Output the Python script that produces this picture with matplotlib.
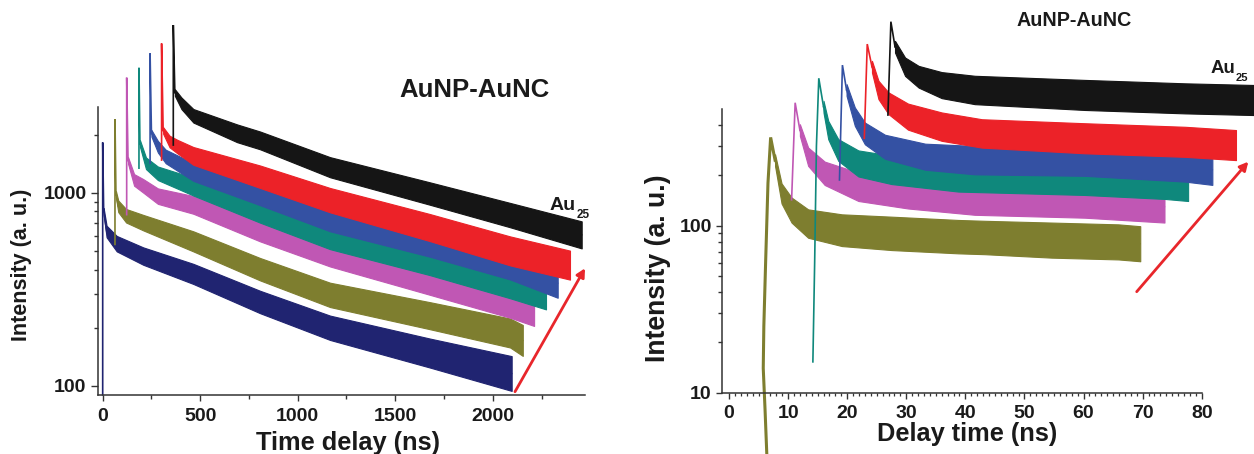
import matplotlib
matplotlib.use('Agg')
import matplotlib.pyplot as plt
import numpy as np
from matplotlib.ticker import NullFormatter, FixedLocator

plt.rcParams['font.family'] = ['Liberation Sans', 'DejaVu Sans']
plt.rcParams['font.weight'] = 'bold'

# ---------------- colours ----------------
C_BLACK = '#151515'
C_RED = '#ec2228'
C_BLUE = '#3451a3'
C_TEAL = '#0f887c'
C_MAGENTA = '#c057b4'
C_OLIVE = '#7e7e2f'
C_NAVY = '#202471'
C_ARROW = '#e8262b'

# ---------------- LEFT PANEL DATA (Time delay, ns / Intensity) ----------------
L_navy_rise_t = [0, 0]
L_navy_rise_I = [90, 1820]
L_navy_t = [5, 20, 72, 208, 465, 807, 1166, 1678, 2097]
L_navy_I = [800, 630, 545, 470, 380, 272, 200, 148, 116]
L_navy_sp = [0.017, 0.03, 0.04, 0.045, 0.052, 0.058, 0.063, 0.075, 0.09]

L_olive_rise_t = [63, 63]
L_olive_rise_I = [540, 2400]
L_olive_t = [68, 80, 120, 208, 465, 807, 1166, 1678, 2089, 2154]
L_olive_I = [980, 850, 760, 700, 560, 402, 296, 231, 188, 172]
L_olive_sp = [0.017, 0.03, 0.035, 0.04, 0.052, 0.058, 0.063, 0.07, 0.075, 0.08]

L_magenta_rise_t = [123, 123]
L_magenta_rise_I = [770, 3940]
L_magenta_t = [130, 161, 208, 283, 465, 807, 1166, 1678, 2089, 2212]
L_magenta_I = [1470, 1165, 1085, 960, 865, 640, 480, 348, 268, 243]
L_magenta_sp = [0.017, 0.03, 0.035, 0.04, 0.046, 0.058, 0.063, 0.07, 0.075, 0.075]

L_teal_rise_t = [186, 186]
L_teal_rise_I = [1340, 4430]
L_teal_t = [191, 222, 283, 465, 807, 1166, 1678, 2089, 2273]
L_teal_I = [1800, 1420, 1260, 1075, 800, 590, 440, 338, 296]
L_teal_sp = [0.017, 0.03, 0.035, 0.046, 0.058, 0.063, 0.07, 0.075, 0.075]

L_blue_rise_t = [243, 243]
L_blue_rise_I = [1420, 5260]
L_blue_t = [250, 283, 323, 465, 807, 1166, 1678, 2089, 2333]
L_blue_I = [2030, 1730, 1540, 1280, 985, 730, 548, 418, 340]
L_blue_sp = [0.017, 0.03, 0.035, 0.046, 0.058, 0.063, 0.07, 0.07, 0.075]

L_red_rise_t = [302, 302]
L_red_rise_I = [1475, 5920]
L_red_t = [310, 343, 384, 465, 807, 1166, 1678, 2089, 2396]
L_red_I = [2100, 1840, 1730, 1550, 1210, 915, 660, 500, 422]
L_red_sp = [0.017, 0.03, 0.035, 0.046, 0.058, 0.063, 0.07, 0.075, 0.075]

L_black_rise_t = [362, 362]
L_black_rise_I = [1765, 7370]
L_black_t = [370, 404, 465, 689, 807, 1166, 1678, 2089, 2456]
L_black_I = [3300, 2900, 2500, 2030, 1865, 1355, 990, 766, 605]
L_black_sp = [0.017, 0.03, 0.035, 0.046, 0.046, 0.052, 0.058, 0.063, 0.07]

L_xticks = [0, 500, 1000, 1500, 2000]
L_xminor = [250, 750, 1250, 1750, 2250]
L_yticks = [100, 1000]
L_yminor = [200, 300, 400, 500, 600, 700, 800, 900, 2000]

# ---------------- RIGHT PANEL DATA (Delay time, ns / Intensity) ----------------
R_olive_rise_t = [6.4, 6.1, 5.8, 5.9, 6.2, 6.6, 7.05]
R_olive_rise_I = [4.3, 8, 14, 25, 60, 180, 338]
R_olive_t = [7.8, 8.9, 10.6, 13.4, 19.1, 27.5, 38.8, 43.3, 54.6, 65.9, 69.6]
R_olive_I = [247, 156, 124, 103, 94, 90, 86, 85, 82, 80, 78]
R_olive_sp = [0.035, 0.06, 0.075, 0.085, 0.095, 0.1, 0.1, 0.1, 0.105, 0.105, 0.105]

R_magenta_rise_t = [10.6, 11.2]
R_magenta_rise_I = [143, 545]
R_magenta_t = [12.0, 13.4, 16.2, 21.9, 30.3, 41.6, 60.2, 73.7]
R_magenta_I = [374, 259, 206, 171, 156, 143, 139, 130]
R_magenta_sp = [0.035, 0.055, 0.07, 0.085, 0.09, 0.09, 0.095, 0.095]

R_teal_rise_t = [14.2, 14.5, 14.8, 15.2]
R_teal_rise_I = [15.3, 60, 300, 764]
R_teal_t = [16.0, 16.8, 18.5, 21.9, 27.5, 38.8, 60.2, 73.8, 77.7]
R_teal_I = [516, 374, 284, 236, 216, 197, 188, 180, 175]
R_teal_sp = [0.035, 0.055, 0.065, 0.078, 0.085, 0.09, 0.09, 0.095, 0.095]

R_blue_rise_t = [18.7, 19.2]
R_blue_rise_I = [188, 916]
R_blue_t = [19.9, 21.3, 23.0, 26.4, 33.2, 41.6, 60.2, 77.2, 81.8]
R_blue_I = [650, 450, 357, 297, 259, 247, 242, 226, 216]
R_blue_sp = [0.035, 0.055, 0.065, 0.072, 0.078, 0.085, 0.085, 0.09, 0.09]

R_red_rise_t = [22.9, 23.4]
R_red_rise_I = [334, 1224]
R_red_t = [24.2, 25.3, 27.0, 30.3, 36.0, 42.8, 60.2, 77.2, 85.8]
R_red_I = [896, 650, 541, 450, 392, 357, 334, 318, 304]
R_red_sp = [0.035, 0.055, 0.065, 0.078, 0.085, 0.085, 0.09, 0.09, 0.09]

R_black_rise_t = [26.9, 27.4]
R_black_rise_I = [460, 1667]
R_black_t = [28.1, 29.8, 32.1, 36.0, 41.6, 60.2, 77.2, 88.8]
R_black_I = [1180, 896, 780, 695, 650, 607, 579, 566]
R_black_sp = [0.035, 0.055, 0.065, 0.078, 0.085, 0.09, 0.09, 0.09]

R_xticks = [0, 10, 20, 30, 40, 50, 60, 70, 80]
R_xminor = [v for v in range(1, 80) if v % 10 != 0]
R_yticks = [10, 100]
R_yminor = [20, 30, 40, 50, 60, 70, 80, 90, 200, 300, 400]

# ---------------- figure ----------------
W, H = 1254, 454
fig = plt.figure(figsize=(W / 100, H / 100), dpi=100)


def box(x0, y0, x1, y1):
    # pixel box (top-left origin) -> figure fraction rect
    return [x0 / W, 1 - y1 / H, (x1 - x0) / W, (y1 - y0) / H]


axL = fig.add_axes(box(97.7, 107.5, 585, 395))
axR = fig.add_axes(box(722, 109, 1201.7, 392.7))


def draw(ax, color, rt, rI, t, I, sp, z, rlw=1.2):
    t = np.asarray(t, float)
    I = np.asarray(I, float)
    sp = np.asarray(sp, float)
    ax.plot(list(rt) + [t[0]], list(rI) + [I[0]], color=color, lw=rlw,
            clip_on=False, zorder=z, solid_joinstyle='miter')
    ax.fill_between(t, I * 10 ** (-sp), I * 10 ** sp, color=color, lw=0.8,
                    edgecolor=color, clip_on=False, zorder=z)
    ax.plot(t, I, color=color, lw=1.0, clip_on=False, zorder=z)


# left panel curves
draw(axL, C_NAVY, L_navy_rise_t, L_navy_rise_I, L_navy_t, L_navy_I, L_navy_sp, 3)
draw(axL, C_OLIVE, L_olive_rise_t, L_olive_rise_I, L_olive_t, L_olive_I, L_olive_sp, 4)
draw(axL, C_MAGENTA, L_magenta_rise_t, L_magenta_rise_I, L_magenta_t, L_magenta_I, L_magenta_sp, 5)
draw(axL, C_TEAL, L_teal_rise_t, L_teal_rise_I, L_teal_t, L_teal_I, L_teal_sp, 6)
draw(axL, C_BLUE, L_blue_rise_t, L_blue_rise_I, L_blue_t, L_blue_I, L_blue_sp, 7)
draw(axL, C_RED, L_red_rise_t, L_red_rise_I, L_red_t, L_red_I, L_red_sp, 8)
draw(axL, C_BLACK, L_black_rise_t, L_black_rise_I, L_black_t, L_black_I, L_black_sp, 9)

# right panel curves
draw(axR, C_OLIVE, R_olive_rise_t, R_olive_rise_I, R_olive_t, R_olive_I, R_olive_sp, 4, rlw=2.2)
draw(axR, C_MAGENTA, R_magenta_rise_t, R_magenta_rise_I, R_magenta_t, R_magenta_I, R_magenta_sp, 5)
draw(axR, C_TEAL, R_teal_rise_t, R_teal_rise_I, R_teal_t, R_teal_I, R_teal_sp, 6)
draw(axR, C_BLUE, R_blue_rise_t, R_blue_rise_I, R_blue_t, R_blue_I, R_blue_sp, 7)
draw(axR, C_RED, R_red_rise_t, R_red_rise_I, R_red_t, R_red_I, R_red_sp, 8)
draw(axR, C_BLACK, R_black_rise_t, R_black_rise_I, R_black_t, R_black_I, R_black_sp, 9)

SPINE = '#333333'
TXT = '#1a1a1a'

for ax in (axL, axR):
    ax.set_yscale('log')
    ax.set_facecolor('none')
    for s in ('top', 'right'):
        ax.spines[s].set_visible(False)
    for s in ('left', 'bottom'):
        ax.spines[s].set_color(SPINE)
        ax.spines[s].set_linewidth(1.1)
        ax.spines[s].set_zorder(20)

axL.set_xlim(-25.6, 2473)
axL.set_ylim(89.8, 2760)
axL.xaxis.set_major_locator(FixedLocator(L_xticks))
axL.xaxis.set_minor_locator(FixedLocator(L_xminor))
axL.yaxis.set_major_locator(FixedLocator(L_yticks))
axL.yaxis.set_minor_locator(FixedLocator(L_yminor))
axL.set_xticklabels([str(v) for v in L_xticks])
axL.set_yticklabels([str(v) for v in L_yticks])
axL.yaxis.set_minor_formatter(NullFormatter())
axL.tick_params(axis='x', which='major', direction='out', length=4.2, width=1,
                color=SPINE, labelsize=14, pad=5.5, labelcolor=TXT)
axL.tick_params(axis='x', which='minor', direction='out', length=3, width=1, color=SPINE)
axL.tick_params(axis='y', which='major', direction='out', length=5, width=1,
                color=SPINE, labelsize=14, pad=3, labelcolor=TXT)
axL.tick_params(axis='y', which='minor', direction='out', length=3, width=1, color=SPINE)

axR.set_xlim(-1.18, 80)
axR.set_ylim(10, 500)
axR.xaxis.set_major_locator(FixedLocator(R_xticks))
axR.xaxis.set_minor_locator(FixedLocator(R_xminor))
axR.yaxis.set_major_locator(FixedLocator(R_yticks))
axR.yaxis.set_minor_locator(FixedLocator(R_yminor))
axR.set_xticklabels([str(v) for v in R_xticks])
axR.set_yticklabels([str(v) for v in R_yticks])
axR.yaxis.set_minor_formatter(NullFormatter())
axR.tick_params(axis='x', which='major', direction='out', length=4.5, width=1,
                color=SPINE, labelsize=14, pad=4, labelcolor=TXT)
axR.tick_params(axis='x', which='minor', direction='out', length=2.4, width=0.9, color=SPINE)
axR.tick_params(axis='y', which='major', direction='out', length=4.3, width=1,
                color=SPINE, labelsize=14, pad=3, labelcolor=TXT)
axR.tick_params(axis='y', which='minor', direction='out', length=2.6, width=1, color=SPINE)

for lab in axL.get_xticklabels() + axL.get_yticklabels() + axR.get_xticklabels() + axR.get_yticklabels():
    lab.set_fontweight('bold')


def ftext(x, y, s, **kw):
    fig.text(x / W, 1 - y / H, s, color=TXT, fontweight='bold', **kw)


# axis labels
ftext(348, 450, 'Time delay (ns)', fontsize=18.3, ha='center', va='baseline')
ftext(22, 265, 'Intensity (a. u.)', fontsize=15.5, ha='center', va='center', rotation=90)
ftext(967, 441, 'Delay time (ns)', fontsize=18.3, ha='center', va='baseline')
ftext(658, 268, 'Intensity (a. u.)', fontsize=19.2, ha='center', va='center', rotation=90)

# annotations
ftext(474, 97, 'AuNP-AuNC', fontsize=18.5, ha='center', va='baseline')
ftext(1074, 25.5, 'AuNP-AuNC', fontsize=14.2, ha='center', va='baseline')
ftext(550, 210, 'Au', fontsize=14, ha='left', va='baseline')
ftext(577, 218.5, '25', fontsize=8.5, ha='left', va='baseline')
ftext(1211, 72.7, 'Au', fontsize=13.4, ha='left', va='baseline')
ftext(1236, 80.7, '25', fontsize=8, ha='left', va='baseline')

# red arrows (figure pixel coordinates)
for (x0, y0, x1, y1) in [(515, 391.7, 585, 268.3), (1136.7, 291.7, 1248.3, 161.7)]:
    fig.patches.append(matplotlib.patches.FancyArrowPatch(
        (x0, H - y0), (x1, H - y1), transform=None,
        arrowstyle='-|>,head_length=5,head_width=2.6', color=C_ARROW, lw=2.0,
        shrinkA=0, shrinkB=0, zorder=30))

fig.savefig('out.png', dpi=100)
